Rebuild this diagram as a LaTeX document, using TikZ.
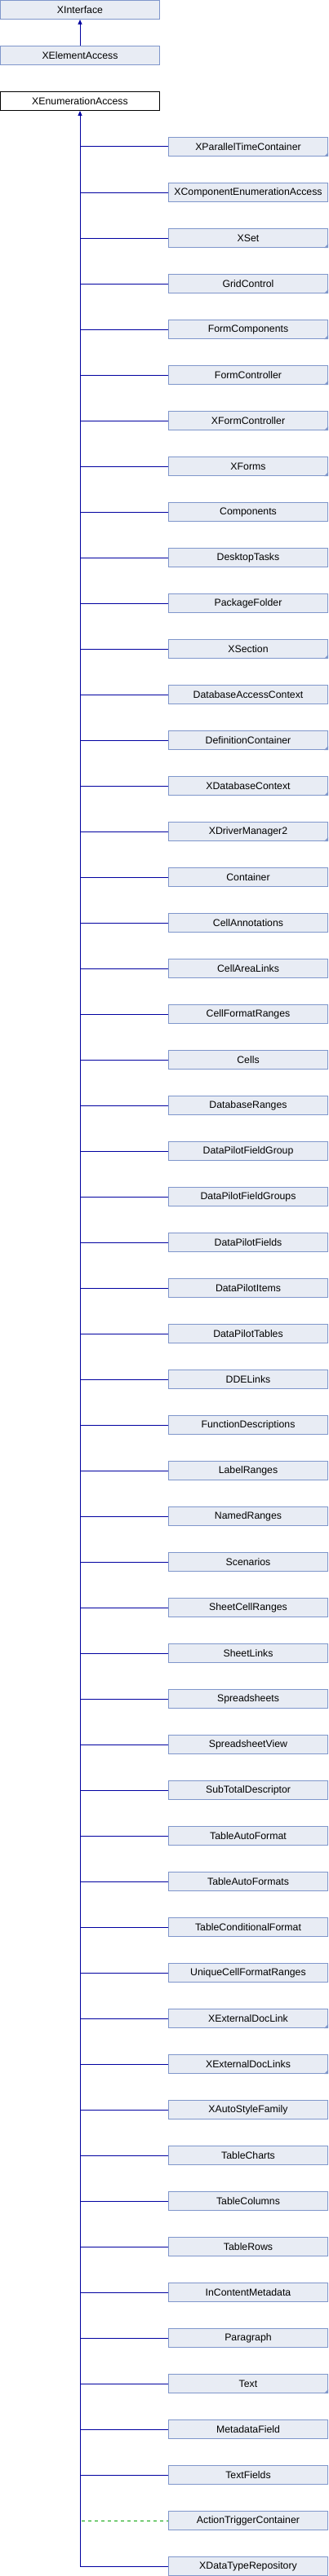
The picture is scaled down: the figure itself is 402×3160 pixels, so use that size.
\documentclass[tikz,border=0pt]{standalone}
\usepackage{fontspec}
\setmainfont{Liberation Sans}
\usepackage{xcolor}
\usepackage{tikz}
\usetikzlibrary{arrows.meta}
\definecolor{IFFill}{HTML}{E8ECF4}
\definecolor{IFLine}{HTML}{7F96CB}
\definecolor{IFBlue}{HTML}{0000A0}
\definecolor{IFGreen}{HTML}{00A000}

\begin{document}
\begin{tikzpicture}[x=1bp,y=-1bp,
  ifbox/.style={draw=IFLine,fill=IFFill,line width=1bp,minimum width=195bp,
    minimum height=23bp,inner sep=0pt,font=\fontsize{12.3bp}{14bp}\selectfont},
  ifself/.style={ifbox,draw=black,fill=white},
  inherit/.style={draw=IFBlue,line width=1bp},
  usage/.style={draw=IFGreen,line width=1bp,dash pattern=on 4bp off 4bp,shorten <=2bp},
  isa/.style={inherit,-{Triangle[length=6bp,width=5bp]}}]
\path[use as bounding box] (0,0) rectangle (402,3160);
\node[ifbox] (iface) at (98,12) {XInterface};
\node[ifbox] (elem) at (98,68) {XElementAccess};
\node[ifself] (enum) at (98,124) {XEnumerationAccess};
\draw[isa] (elem.north) -- (iface.south);
\draw[isa] (enum.south |- 0,3148) -- (enum.south);
\foreach \name/\more/\link [count=\i from 0] in {
  XParallelTimeContainer/1/inherit, XComponentEnumerationAccess/0/inherit,
  XSet/1/inherit, GridControl/1/inherit, FormComponents/1/inherit,
  FormController/1/inherit, XFormController/1/inherit, XForms/1/inherit,
  Components/0/inherit, DesktopTasks/0/inherit, PackageFolder/0/inherit,
  XSection/1/inherit, DatabaseAccessContext/0/inherit,
  DefinitionContainer/1/inherit, XDatabaseContext/1/inherit,
  XDriverManager2/1/inherit, Container/0/inherit, CellAnnotations/0/inherit,
  CellAreaLinks/0/inherit, CellFormatRanges/0/inherit, Cells/0/inherit,
  DatabaseRanges/0/inherit, DataPilotFieldGroup/0/inherit,
  DataPilotFieldGroups/0/inherit, DataPilotFields/0/inherit,
  DataPilotItems/0/inherit, DataPilotTables/0/inherit, DDELinks/0/inherit,
  FunctionDescriptions/0/inherit, LabelRanges/0/inherit,
  NamedRanges/0/inherit, Scenarios/0/inherit, SheetCellRanges/0/inherit,
  SheetLinks/0/inherit, Spreadsheets/0/inherit, SpreadsheetView/0/inherit,
  SubTotalDescriptor/0/inherit, TableAutoFormat/0/inherit,
  TableAutoFormats/0/inherit, TableConditionalFormat/0/inherit,
  UniqueCellFormatRanges/0/inherit, XExternalDocLink/1/inherit,
  XExternalDocLinks/1/inherit, XAutoStyleFamily/0/inherit,
  TableCharts/0/inherit, TableColumns/0/inherit, TableRows/0/inherit,
  InContentMetadata/0/inherit, Paragraph/0/inherit, Text/1/inherit,
  MetadataField/0/inherit, TextFields/0/inherit,
  ActionTriggerContainer/0/usage, XDataTypeRepository/0/inherit} {
  \node[ifbox] (c\i) at (304,180+56*\i) {\name};
  \draw[\link] (enum.south |- c\i.west) -- (c\i.west);
  \ifnum\more=1
    \fill[IFLine] (c\i.south east) -- ++(-5,0) -- ++(5,-5) -- cycle;
  \fi
}
\end{tikzpicture}
\end{document}
